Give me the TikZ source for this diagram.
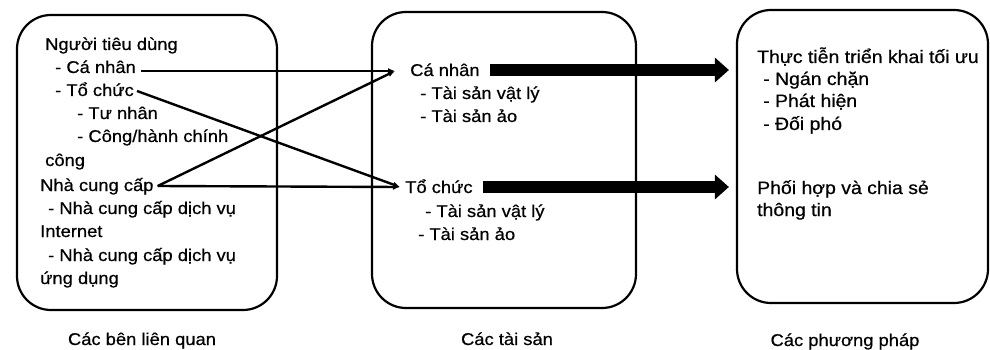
\documentclass[tikz,border=0pt]{standalone}
\usepackage{fontspec}
\setmainfont[FakeStretch=1.08,FakeBold=0.6]{Liberation Sans}
\usetikzlibrary{arrows.meta,calc}

\begin{document}
\begin{tikzpicture}[x=1pt,y=-1pt,
  txt/.style={anchor=base west,inner sep=0pt,font=\fontsize{17}{20}\selectfont},
  wtxt/.style={txt,font=\fontsize{18}{21}\selectfont},
  caption/.style={anchor=base,inner sep=0pt,font=\fontsize{17}{20}\selectfont},
  panel/.style={draw,line width=2.2pt,rounded corners=34pt,inner sep=0pt},
  link/.style={line width=2.4pt,-{Latex[length=7pt,width=6pt]}},
  bigarrow/.style={line width=12pt,-{Triangle[length=14pt,width=24pt]}}]
\useasboundingbox (0,0) rectangle (990,350);

% three rounded panels
\node[panel,minimum width=260pt,minimum height=295pt] (p1) at (147,162.5) {};
\node[panel,minimum width=264pt,minimum height=296pt] (p2) at (504,160) {};
\node[panel,minimum width=251pt,minimum height=293pt] (p3) at (862.5,156.5) {};

% stakeholders
\node[txt] (n1)  at (45,50)  {Người tiêu dùng};
\node[txt] (n2)  at (55,73)  {- Cá nhân};
\node[txt] (n3)  at (55,96)  {- Tổ chức};
\node[txt] (n4)  at (77,119) {- Tư nhân};
\node[txt] (n5)  at (77,142) {- Công/hành chính};
\node[txt] (n6)  at (45,166) {công};
\node[txt] (n7)  at (40,191) {Nhà cung cấp};
\node[txt] (n8)  at (48,214) {- Nhà cung cấp dịch vụ};
\node[txt] (n9)  at (40,237) {Internet};
\node[txt] (n10) at (48,261) {- Nhà cung cấp dịch vụ};
\node[txt] (n11) at (40,284) {ứng dụng};

% assets
\node[txt] (a1) at (410,76)  {Cá nhân};
\node[txt] (a2) at (420,99)  {- Tài sản vật lý};
\node[txt] (a3) at (420,122) {- Tài sản ảo};
\node[txt] (a4) at (405,193) {Tổ chức};
\node[txt] (a5) at (425,217) {- Tài sản vật lý};
\node[txt] (a6) at (418,240) {- Tài sản ảo};

% methods
\node[wtxt] (m1) at (757,63)  {Thực tiễn triển khai tối ưu};
\node[wtxt] (m2) at (763,85)  {- Ngán chặn};
\node[wtxt] (m3) at (763,107) {- Phát hiện};
\node[wtxt] (m4) at (763,130) {- Đối phó};
\node[wtxt] (m5) at (757,194) {Phối hợp và chia sẻ};
\node[wtxt] (m6) at (757,216) {thông tin};

% panel captions
\node[caption] (l1) at (142,345) {Các bên liên quan};
\node[caption] (l2) at (507,345) {Các tài sản};
\node[caption] (l3) at (845,346) {Các phương pháp};

% thin links between stakeholders and assets
\coordinate (c1) at ([xshift=-15pt,yshift=5pt]a1.base west);
\coordinate (c2) at ([xshift=-5pt,yshift=6pt]a4.base west);
\draw[link] ([xshift=5pt,yshift=2pt]n2.base east) -- (c1);
\draw[link] ([xshift=3pt,yshift=5pt]n3.base east) -- (c2);
\draw[link] ([xshift=4pt,yshift=5pt]n7.base east) -- (c1);
\draw[link] ([xshift=4pt,yshift=5pt]n7.base east) -- (c2);

% thick arrows from assets to methods
\coordinate (s1) at ([xshift=10pt,yshift=6pt]a1.base east);
\coordinate (s2) at ([xshift=10pt,yshift=6pt]a4.base east);
\draw[bigarrow] (s1) -- ([xshift=-7pt]s1 -| p3.west);
\draw[bigarrow] (s2) -- ([xshift=-7pt]s2 -| p3.west);
\end{tikzpicture}
\end{document}
